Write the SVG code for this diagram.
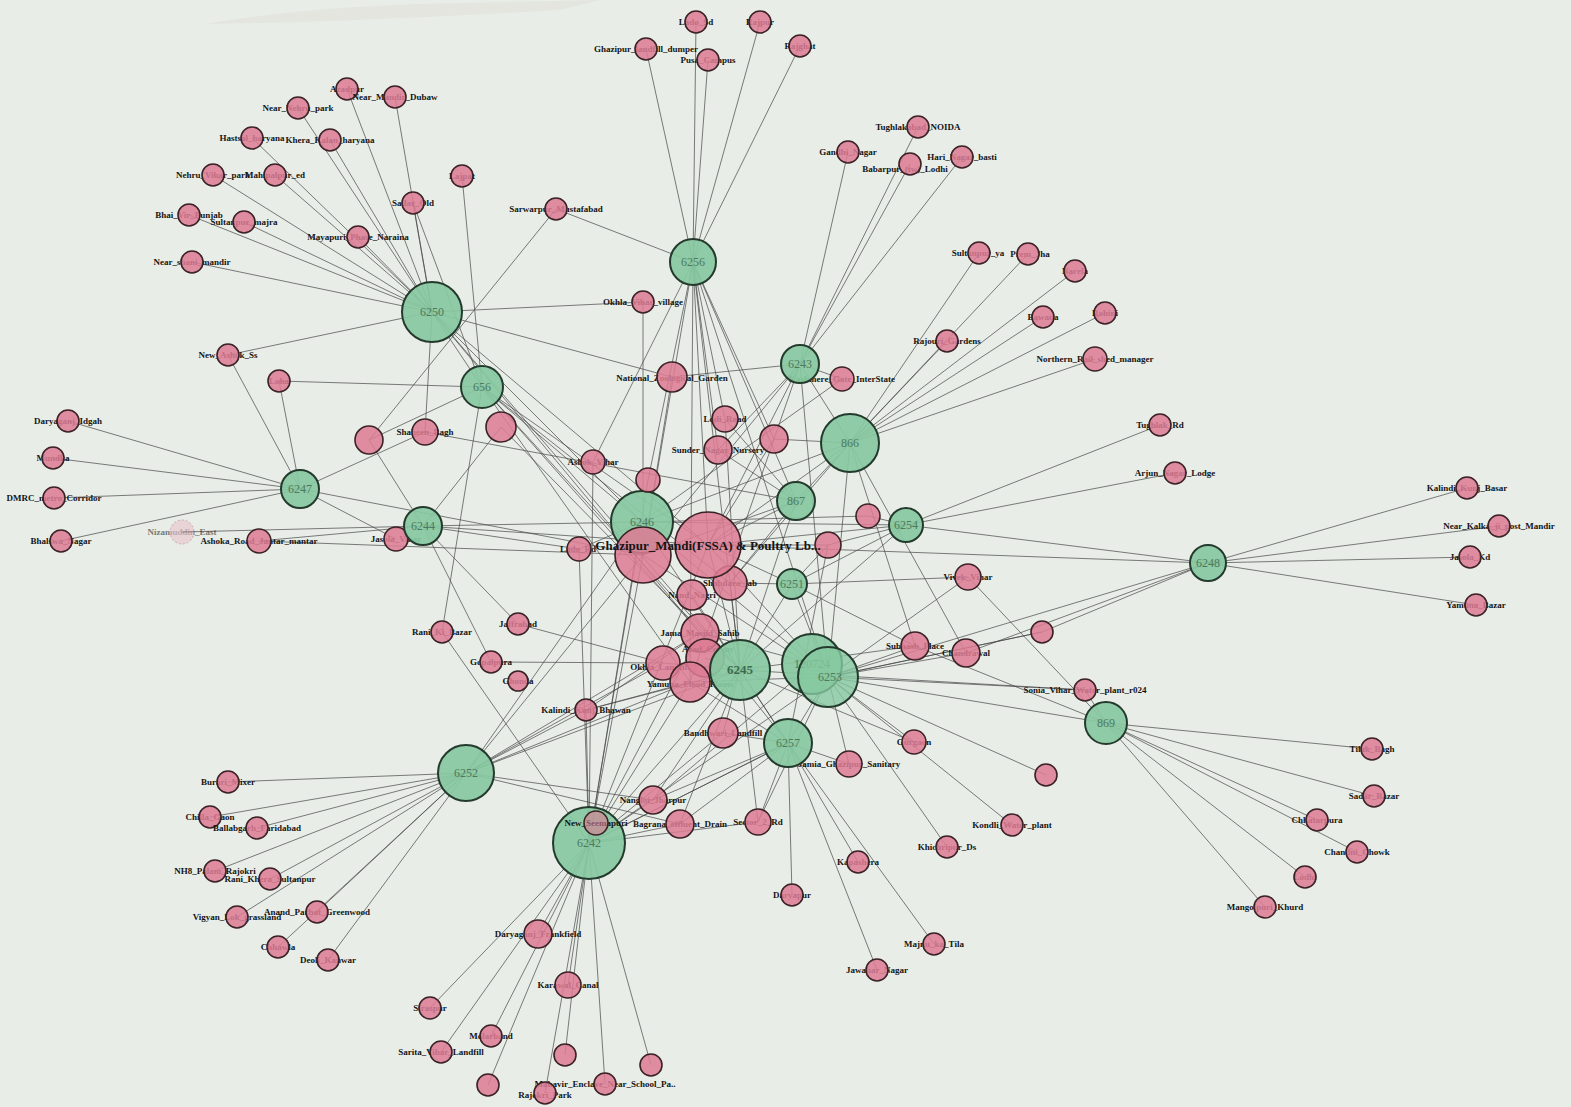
<svg xmlns="http://www.w3.org/2000/svg" width="1571" height="1107" viewBox="0 0 1571 1107">
<style>
.pk{fill:#dd7c94;fill-opacity:.86;stroke:#3a2226;stroke-width:1.6}
.pf{fill:#e9a3b4;fill-opacity:.6;stroke:#b07080;stroke-width:1;stroke-dasharray:2 2}
.hb{fill:#86c8a0;fill-opacity:.93;stroke:#243a2c;stroke-width:2}
.lb{font-family:"Liberation Serif",serif;font-weight:bold;font-size:9px;fill:#151515;text-anchor:middle}
.hl{font-family:"Liberation Serif",serif;font-size:12px;fill:#4d7a5c;text-anchor:middle}
.bl{font-family:"Liberation Serif",serif;font-weight:bold;font-size:13px;fill:#151515;text-anchor:middle}
#edges path{fill:none;stroke:#474747;stroke-width:1;stroke-opacity:.7}
</style>
<rect width="1571" height="1107" fill="#e8ede8"/>
<path d="M205 24 Q300 8 420 4 L600 0 L560 10 Q420 18 300 22 Z" fill="#d8d3c8" opacity="0.3"/>
<g id="edges">
<path d="M432 312L347 89M432 312L395 97M432 312L298 108M432 312L252 138M432 312L330 140M432 312L213 175M432 312L275 175M432 312L189 215M432 312L244 222M432 312L358 237M432 312L413 203M432 312L192 262M432 312L228 355M432 312L643 302M432 312L425 432M432 312L482 387M432 312L642 522M432 312L708 545M432 312L700 633M432 312L740 670M432 312L672 377"/>
<path d="M693 262L696 22M693 262L760 22M693 262L646 49M693 262L708 60M693 262L800 46M693 262L556 209M693 262L643 555M693 262L708 545M693 262L725 419M693 262L774 439M693 262L796 501M693 262L740 670M693 262L828 677M693 262L690 682M693 262L648 480M693 262L718 450M693 262L593 462"/>
<path d="M482 387L462 176M482 387L413 203M482 387L279 381M482 387L369 440M482 387L642 522M482 387L708 545M482 387L700 633M482 387L690 682M482 387L740 670M482 387L730 583M482 387L442 632"/>
<path d="M300 489L68 421M300 489L53 458M300 489L54 498M300 489L61 541M300 489L228 355M300 489L279 381M300 489L425 432M300 489L396 539M300 489L643 555"/>
<path d="M423 526L182 532M423 526L259 541M423 526L369 440M423 526L501 427M423 526L491 662M423 526L518 624M423 526L642 522M423 526L708 545M423 526L579 549"/>
<path d="M800 364L848 152M800 364L918 127M800 364L910 164M800 364L962 157M800 364L842 379M800 364L672 377M800 364L643 555M800 364L708 545M800 364L690 682M800 364L718 450M800 364L828 677M800 364L850 443"/>
<path d="M850 443L979 253M850 443L1028 254M850 443L1075 271M850 443L1043 317M850 443L1105 313M850 443L947 341M850 443L1095 359M850 443L642 522M850 443L708 545M850 443L774 439M850 443L796 501M850 443L915 646M850 443L966 653M850 443L828 677M850 443L730 583"/>
<path d="M906 525L1160 425M906 525L1175 473M906 525L868 516M906 525L642 522M906 525L708 545M906 525L1208 563M906 525L792 584M906 525L828 545M906 525L740 670"/>
<path d="M1208 563L1467 488M1208 563L1499 526M1208 563L1470 557M1208 563L1476 605M1208 563L708 545M1208 563L1042 632M1208 563L966 653M1208 563L828 677"/>
<path d="M1106 723L1372 749M1106 723L1374 796M1106 723L1317 820M1106 723L1357 852M1106 723L1305 877M1106 723L1265 907M1106 723L1085 690M1106 723L968 577M1106 723L915 646M1106 723L828 677"/>
<path d="M792 584L708 545M792 584L730 583M792 584L968 577M792 584L740 670M792 584L828 677M792 584L828 545M792 584L915 646"/>
<path d="M796 501L708 545M796 501L643 555M796 501L730 583M796 501L718 450M796 501L725 419M796 501L740 670M796 501L425 432"/>
<path d="M740 670L700 633M740 670L705 658M740 670L663 663M740 670L692 595M740 670L730 583M740 670L723 733M740 670L788 743M740 670L589 843M740 670L466 773M740 670L653 800M740 670L680 824M740 670L758 822M740 670L586 710M740 670L708 545M740 670L725 419M740 670L501 427M740 670L915 646M740 670L1085 690M740 670L914 742"/>
<path d="M828 677L1085 690M828 677L1046 775M828 677L914 742M828 677L1012 825M828 677L947 847M828 677L966 653M828 677L915 646M828 677L968 577M828 677L1042 632M828 677L708 545M828 677L788 743M828 677L849 764M828 677L758 822M828 677L589 843M828 677L643 555M828 677L690 682M813 664L642 522M813 664L700 633M813 664L653 800"/>
<path d="M788 743L723 733M788 743L680 824M788 743L758 822M788 743L792 895M788 743L858 862M788 743L877 970M788 743L934 944M788 743L849 764M788 743L700 633M788 743L642 522M788 743L589 843M788 743L653 800M788 743L690 682M788 743L828 545"/>
<path d="M466 773L228 782M466 773L210 817M466 773L257 828M466 773L215 871M466 773L270 879M466 773L237 917M466 773L317 912M466 773L278 947M466 773L328 960M466 773L643 555M466 773L690 682M466 773L700 633M466 773L663 663M466 773L586 710M466 773L653 800M466 773L680 824M466 773L642 522"/>
<path d="M589 843L538 934M589 843L568 985M589 843L430 1008M589 843L491 1036M589 843L441 1052M589 843L565 1055M589 843L651 1065M589 843L545 1093M589 843L605 1084M589 843L488 1085M589 843L643 555M589 843L708 545M589 843L700 633M589 843L690 682M589 843L788 743M589 843L723 733M589 843L653 800M589 843L680 824M589 843L758 822M589 843L442 632M589 843L586 710M589 843L642 522M589 843L579 549M589 843L593 462M589 843L648 480"/>
<path d="M556 209L369 440M643 302L643 555M672 377L643 555M842 379L642 522M518 624L663 663M491 662L663 663M586 710L690 682M586 710L700 633M774 439L708 545M828 545L708 545M868 516L642 522M1042 632L828 677M579 549L642 522M259 541L643 555"/>
</g>
<g id="n-6246"><circle class="hb" cx="642" cy="522" r="31"/><text class="hl" x="642" y="526">6246</text></g>
<g id="n-azadpur"><text class="lb" x="347" y="92">Azadpur</text><circle class="pk" cx="347" cy="89" r="11"/></g>
<g id="n-near-mandir-dubaw"><text class="lb" x="395" y="100">Near_Mandir_Dubaw</text><circle class="pk" cx="395" cy="97" r="11"/></g>
<g id="n-near-nehru-park"><text class="lb" x="298" y="111">Near_Nehru_park</text><circle class="pk" cx="298" cy="108" r="11"/></g>
<g id="n-hastsal"><text class="lb" x="252" y="141">Hastsal_haryana</text><circle class="pk" cx="252" cy="138" r="11"/></g>
<g id="n-khera"><text class="lb" x="330" y="143">Khera_Kalan_haryana</text><circle class="pk" cx="330" cy="140" r="11"/></g>
<g id="n-nehru-vihar"><text class="lb" x="213" y="178">Nehru_Vihar_park</text><circle class="pk" cx="213" cy="175" r="11"/></g>
<g id="n-mahipalpur"><text class="lb" x="275" y="178">Mahipalpur_ed</text><circle class="pk" cx="275" cy="175" r="11"/></g>
<g id="n-bhai-vir"><text class="lb" x="189" y="218">Bhai_Vir_Punjab</text><circle class="pk" cx="189" cy="215" r="11"/></g>
<g id="n-sultanpur-majra"><text class="lb" x="244" y="225">Sultanpur_majra</text><circle class="pk" cx="244" cy="222" r="11"/></g>
<g id="n-mayapuri"><text class="lb" x="358" y="240">Mayapuri_Phase_Naraina</text><circle class="pk" cx="358" cy="237" r="11"/></g>
<g id="n-sadar-old"><text class="lb" x="413" y="206">Sadar_Old</text><circle class="pk" cx="413" cy="203" r="11"/></g>
<g id="n-lajpat"><text class="lb" x="462" y="179">Lajpat</text><circle class="pk" cx="462" cy="176" r="11"/></g>
<g id="n-near-shani"><text class="lb" x="192" y="265">Near_shani_mandir</text><circle class="pk" cx="192" cy="262" r="11"/></g>
<g id="n-new-ashok"><text class="lb" x="228" y="358">New_Ashok_Ss</text><circle class="pk" cx="228" cy="355" r="11"/></g>
<g id="n-loha-mandi"><text class="lb" x="279" y="384">Loha</text><circle class="pk" cx="279" cy="381" r="11"/></g>
<g id="n-sarwarpur"><text class="lb" x="556" y="212">Sarwarpur_Mustafabad</text><circle class="pk" cx="556" cy="209" r="11"/></g>
<g id="n-okhla-village"><text class="lb" x="643" y="305">Okhla_Vihar_village</text><circle class="pk" cx="643" cy="302" r="11"/></g>
<g id="n-lado"><text class="lb" x="696" y="25">Lado_Sd</text><circle class="pk" cx="696" cy="22" r="11"/></g>
<g id="n-rajpur"><text class="lb" x="760" y="25">Rajpur</text><circle class="pk" cx="760" cy="22" r="11"/></g>
<g id="n-ghazipur-dumper"><text class="lb" x="646" y="52">Ghazipur_landfill_dumper</text><circle class="pk" cx="646" cy="49" r="11"/></g>
<g id="n-pusa"><text class="lb" x="708" y="63">Pusa_Campus</text><circle class="pk" cx="708" cy="60" r="11"/></g>
<g id="n-rajghat"><text class="lb" x="800" y="49">Rajghat</text><circle class="pk" cx="800" cy="46" r="11"/></g>
<g id="n-gandhi-nagar"><text class="lb" x="848" y="155">Gandhi_Nagar</text><circle class="pk" cx="848" cy="152" r="11"/></g>
<g id="n-tughlakabad-noida"><text class="lb" x="918" y="130">Tughlakabad_NOIDA</text><circle class="pk" cx="918" cy="127" r="11"/></g>
<g id="n-babarpur"><text class="lb" x="905" y="172">Babarpur_(tw)_Lodhi</text><circle class="pk" cx="910" cy="164" r="11"/></g>
<g id="n-hari-basti"><text class="lb" x="962" y="160">Hari_Nagar_basti</text><circle class="pk" cx="962" cy="157" r="11"/></g>
<g id="n-sultanpuri"><text class="lb" x="978" y="256">Sultanpur_ya</text><circle class="pk" cx="979" cy="253" r="11"/></g>
<g id="n-prem-jha"><text class="lb" x="1030" y="257">Prem_Jha</text><circle class="pk" cx="1028" cy="254" r="11"/></g>
<g id="n-narela"><text class="lb" x="1075" y="274">Narela</text><circle class="pk" cx="1075" cy="271" r="11"/></g>
<g id="n-bawana"><text class="lb" x="1043" y="320">Bawana</text><circle class="pk" cx="1043" cy="317" r="11"/></g>
<g id="n-rohini"><text class="lb" x="1105" y="316">Rohini</text><circle class="pk" cx="1105" cy="313" r="11"/></g>
<g id="n-rajouri-gardens"><text class="lb" x="947" y="344">Rajouri_Gardens</text><circle class="pk" cx="947" cy="341" r="11"/></g>
<g id="n-northern-rail"><text class="lb" x="1095" y="362">Northern_Rail_shed_manager</text><circle class="pk" cx="1095" cy="359" r="12"/></g>
<g id="n-tughlak-road"><text class="lb" x="1160" y="428">Tughlak_Rd</text><circle class="pk" cx="1160" cy="425" r="11"/></g>
<g id="n-arjun-lodge"><text class="lb" x="1175" y="476">Arjun_Nagar_Lodge</text><circle class="pk" cx="1175" cy="473" r="11"/></g>
<g id="n-kalindi-basar"><text class="lb" x="1467" y="491">Kalindi_Kunj_Basar</text><circle class="pk" cx="1467" cy="488" r="11"/></g>
<g id="n-near-kalka"><text class="lb" x="1499" y="529">Near_Kalka_ji_post_Mandir</text><circle class="pk" cx="1499" cy="526" r="11"/></g>
<g id="n-jasola-kd"><text class="lb" x="1470" y="560">Jasola_Kd</text><circle class="pk" cx="1470" cy="557" r="11"/></g>
<g id="n-yamuna-bazar"><text class="lb" x="1476" y="608">Yamuna_Bazar</text><circle class="pk" cx="1476" cy="605" r="11"/></g>
<g id="n-tilak-bagh"><text class="lb" x="1372" y="752">Tilak_Bagh</text><circle class="pk" cx="1372" cy="749" r="11"/></g>
<g id="n-sadar-bazar"><text class="lb" x="1374" y="799">Sadar_Bazar</text><circle class="pk" cx="1374" cy="796" r="11"/></g>
<g id="n-chhatarpura"><text class="lb" x="1317" y="823">Chhatarpura</text><circle class="pk" cx="1317" cy="820" r="11"/></g>
<g id="n-chandni-chowk"><text class="lb" x="1357" y="855">Chandni_Chowk</text><circle class="pk" cx="1357" cy="852" r="11"/></g>
<g id="n-lodhi"><text class="lb" x="1305" y="880">Lodhi</text><circle class="pk" cx="1305" cy="877" r="11"/></g>
<g id="n-mangolpuri"><text class="lb" x="1265" y="910">Mangolpuri_Khurd</text><circle class="pk" cx="1265" cy="907" r="11"/></g>
<g id="n-sonia-vihar"><text class="lb" x="1085" y="693">Sonia_Vihar_Water_plant_r024</text><circle class="pk" cx="1085" cy="690" r="11"/></g>
<g id="n-vivek-vihar"><text class="lb" x="968" y="580">Vivek_Vihar</text><circle class="pk" cx="968" cy="577" r="13"/></g>
<g id="n-subhash"><text class="lb" x="915" y="649">Subhash_Place</text><circle class="pk" cx="915" cy="646" r="14"/></g>
<g id="n-chandrawal"><text class="lb" x="966" y="656">Chandrawal</text><circle class="pk" cx="966" cy="653" r="14"/></g>
<g id="n-1042"><circle class="pk" cx="1042" cy="632" r="11"/></g>
<g id="n-gurgaon"><text class="lb" x="914" y="745">Gurgaon</text><circle class="pk" cx="914" cy="742" r="12"/></g>
<g id="n-1046"><circle class="pk" cx="1046" cy="775" r="11"/></g>
<g id="n-jamia-sanitary"><text class="lb" x="849" y="767">Jamia_Ghazipur_Sanitary</text><circle class="pk" cx="849" cy="764" r="13"/></g>
<g id="n-kondli"><text class="lb" x="1012" y="828">Kondli_Water_plant</text><circle class="pk" cx="1012" cy="825" r="11"/></g>
<g id="n-khichripur"><text class="lb" x="947" y="850">Khichripur_Ds</text><circle class="pk" cx="947" cy="847" r="11"/></g>
<g id="n-kapashera"><text class="lb" x="858" y="865">Kapashera</text><circle class="pk" cx="858" cy="862" r="11"/></g>
<g id="n-daryapur"><text class="lb" x="792" y="898">Daryapur</text><circle class="pk" cx="792" cy="895" r="11"/></g>
<g id="n-majnu"><text class="lb" x="934" y="947">Majnu_ka_Tila</text><circle class="pk" cx="934" cy="944" r="11"/></g>
<g id="n-jawahar"><text class="lb" x="877" y="973">Jawahar_Nagar</text><circle class="pk" cx="877" cy="970" r="11"/></g>
<g id="n-868"><circle class="pk" cx="868" cy="516" r="12"/></g>
<g id="n-828"><circle class="pk" cx="828" cy="545" r="13"/></g>
<g id="n-kashmere"><text class="lb" x="842" y="382">Kashmere_Gate_InterState</text><circle class="pk" cx="842" cy="379" r="12"/></g>
<g id="n-national-garden"><text class="lb" x="672" y="381">National_Zoological_Garden</text><circle class="pk" cx="672" cy="377" r="15"/></g>
<g id="n-lodi-road"><text class="lb" x="725" y="422">Lodi_Road</text><circle class="pk" cx="725" cy="419" r="13"/></g>
<g id="n-sunder-nursery"><text class="lb" x="718" y="453">Sunder_Nagar_Nursery</text><circle class="pk" cx="718" cy="450" r="14"/></g>
<g id="n-774"><circle class="pk" cx="774" cy="439" r="14"/></g>
<g id="n-ashok-vihar"><text class="lb" x="593" y="465">Ashok_Vihar</text><circle class="pk" cx="593" cy="462" r="12"/></g>
<g id="n-648"><circle class="pk" cx="648" cy="480" r="12"/></g>
<g id="n-501"><circle class="pk" cx="501" cy="427" r="15"/></g>
<g id="n-369"><circle class="pk" cx="369" cy="440" r="14"/></g>
<g id="n-shaheen"><text class="lb" x="425" y="435">Shaheen_Bagh</text><circle class="pk" cx="425" cy="432" r="13"/></g>
<g id="n-lado-rd"><text class="lb" x="578" y="552">Lado_Rd</text><circle class="pk" cx="579" cy="549" r="12"/></g>
<g id="n-jasola-vihar"><text class="lb" x="396" y="542">Jasola_Vihar</text><circle class="pk" cx="396" cy="539" r="12"/></g>
<g id="n-ashoka-road"><text class="lb" x="259" y="544">Ashoka_Road_Jantar_mantar</text><circle class="pk" cx="259" cy="541" r="12"/></g>
<g id="n-nizamuddin" opacity="0.55"><text class="lb" x="182" y="535">Nizamuddin_East</text><circle class="pf" cx="182" cy="532" r="12"/></g>
<g id="n-daryaganj-idgah"><text class="lb" x="68" y="424">Daryaganj_Idgah</text><circle class="pk" cx="68" cy="421" r="11"/></g>
<g id="n-mundka"><text class="lb" x="53" y="461">Mundka</text><circle class="pk" cx="53" cy="458" r="11"/></g>
<g id="n-dmrc"><text class="lb" x="54" y="501">DMRC_metro_Corridor</text><circle class="pk" cx="54" cy="498" r="11"/></g>
<g id="n-bhalswa"><text class="lb" x="61" y="544">Bhalswa_Nagar</text><circle class="pk" cx="61" cy="541" r="11"/></g>
<g id="n-rani"><text class="lb" x="442" y="635">Rani_Ki_Bazar</text><circle class="pk" cx="442" cy="632" r="11"/></g>
<g id="n-jaffrabad"><text class="lb" x="518" y="627">Jaffrabad</text><circle class="pk" cx="518" cy="624" r="11"/></g>
<g id="n-gopalpura"><text class="lb" x="491" y="665">Gopalpura</text><circle class="pk" cx="491" cy="662" r="11"/></g>
<g id="n-ghonda"><text class="lb" x="518" y="684">Ghonda</text><circle class="pk" cx="518" cy="681" r="10"/></g>
<g id="n-kalindi-bhawan"><text class="lb" x="586" y="713">Kalindi_Kunj_Bhawan</text><circle class="pk" cx="586" cy="710" r="11"/></g>
<g id="n-burari"><text class="lb" x="228" y="785">Burari_Mixer</text><circle class="pk" cx="228" cy="782" r="11"/></g>
<g id="n-chilla"><text class="lb" x="210" y="820">Chilla_Gaon</text><circle class="pk" cx="210" cy="817" r="11"/></g>
<g id="n-ballabgarh"><text class="lb" x="257" y="831">Ballabgarh_Faridabad</text><circle class="pk" cx="257" cy="828" r="11"/></g>
<g id="n-nh8"><text class="lb" x="215" y="874">NH8_Palam_Rajokri</text><circle class="pk" cx="215" cy="871" r="11"/></g>
<g id="n-rani-khera"><text class="lb" x="270" y="882">Rani_Khera_Sultanpur</text><circle class="pk" cx="270" cy="879" r="11"/></g>
<g id="n-vigyan-lok"><text class="lb" x="237" y="920">Vigyan_Lok_grassland</text><circle class="pk" cx="237" cy="917" r="11"/></g>
<g id="n-anand-parbat"><text class="lb" x="317" y="915">Anand_Parbat_Greenwood</text><circle class="pk" cx="317" cy="912" r="11"/></g>
<g id="n-chhawla"><text class="lb" x="278" y="950">Chhawla</text><circle class="pk" cx="278" cy="947" r="11"/></g>
<g id="n-deoli"><text class="lb" x="328" y="963">Deoli_Kanwar</text><circle class="pk" cx="328" cy="960" r="11"/></g>
<g id="n-daryaganj-frank"><text class="lb" x="538" y="937">Daryaganj_Frankfield</text><circle class="pk" cx="538" cy="934" r="14"/></g>
<g id="n-karawal"><text class="lb" x="568" y="988">Karawal_Canal</text><circle class="pk" cx="568" cy="985" r="13"/></g>
<g id="n-siraspur"><text class="lb" x="430" y="1011">Siraspur</text><circle class="pk" cx="430" cy="1008" r="11"/></g>
<g id="n-molarband"><text class="lb" x="491" y="1039">Molarband</text><circle class="pk" cx="491" cy="1036" r="11"/></g>
<g id="n-sarita"><text class="lb" x="441" y="1055">Sarita_Vihar_Landfill</text><circle class="pk" cx="441" cy="1052" r="11"/></g>
<g id="n-565"><circle class="pk" cx="565" cy="1055" r="11"/></g>
<g id="n-651"><circle class="pk" cx="651" cy="1065" r="11"/></g>
<g id="n-488"><circle class="pk" cx="488" cy="1085" r="11"/></g>
<g id="n-mahavir"><text class="lb" x="605" y="1087">Mahavir_Enclave_Near_School_Pa..</text><circle class="pk" cx="605" cy="1084" r="11"/></g>
<g id="n-rajokri-park"><text class="lb" x="545" y="1098">Rajokri_Park</text><circle class="pk" cx="545" cy="1093" r="11"/></g>
<g id="n-nangloi"><text class="lb" x="653" y="803">Nangloi_Jharpur</text><circle class="pk" cx="653" cy="800" r="14"/></g>
<g id="n-bagrana"><text class="lb" x="680" y="827">Bagrana_effluent_Drain</text><circle class="pk" cx="680" cy="824" r="14"/></g>
<g id="n-sector2"><text class="lb" x="758" y="825">Sector_2_Rd</text><circle class="pk" cx="758" cy="822" r="13"/></g>
<g id="n-bandhwari"><text class="lb" x="723" y="736">Bandhwari_Landfill</text><circle class="pk" cx="723" cy="733" r="15"/></g>
<g id="n-nand-nagri"><text class="lb" x="692" y="598">Nand_Nagri</text><circle class="pk" cx="692" cy="595" r="15"/></g>
<g id="n-shahdara-lab"><text class="lb" x="730" y="586">Shahdara_lab</text><circle class="pk" cx="730" cy="583" r="17"/></g>
<g id="n-jama-masjid"><text class="lb" x="700" y="636">Jama_Masjid_Sahib</text><circle class="pk" cx="700" cy="633" r="19"/></g>
<g id="n-okhla-landfill"><text class="lb" x="660" y="670">Okhla_Landfill</text><circle class="pk" cx="663" cy="663" r="17"/></g>
<g id="n-azad-colony"><text class="lb" x="708" y="652">Azad_Colony</text><circle class="pk" cx="705" cy="658" r="19"/></g>
<g id="n-yamuna-flood"><text class="lb" x="690" y="687">Yamuna_Flood_Plains</text><circle class="pk" cx="690" cy="682" r="20"/></g>
<g id="n-ghazipur"><circle class="pk" cx="643" cy="555" r="28"/></g>
<g id="n-ghazipur-mandi"><circle class="pk" cx="708" cy="545" r="33"/><text class="bl" x="708" y="550">Ghazipur_Mandi(FSSA) &amp; Poultry Lb...</text></g>
<g id="n-6250"><circle class="hb" cx="432" cy="312" r="30"/><text class="hl" x="432" y="316">6250</text></g>
<g id="n-6256"><circle class="hb" cx="693" cy="262" r="23"/><text class="hl" x="693" y="266">6256</text></g>
<g id="n-656"><circle class="hb" cx="482" cy="387" r="21"/><text class="hl" x="482" y="391">656</text></g>
<g id="n-6247"><circle class="hb" cx="300" cy="489" r="19"/><text class="hl" x="300" y="493">6247</text></g>
<g id="n-6244"><circle class="hb" cx="423" cy="526" r="19"/><text class="hl" x="423" y="530">6244</text></g>
<g id="n-6243"><circle class="hb" cx="800" cy="364" r="19"/><text class="hl" x="800" y="368">6243</text></g>
<g id="n-866"><circle class="hb" cx="850" cy="443" r="29"/><text class="hl" x="850" y="447">866</text></g>
<g id="n-867"><circle class="hb" cx="796" cy="501" r="19"/><text class="hl" x="796" y="505">867</text></g>
<g id="n-6254"><circle class="hb" cx="906" cy="525" r="17"/><text class="hl" x="906" y="529">6254</text></g>
<g id="n-6248"><circle class="hb" cx="1208" cy="563" r="18"/><text class="hl" x="1208" y="567">6248</text></g>
<g id="n-6251"><circle class="hb" cx="792" cy="584" r="15"/><text class="hl" x="792" y="588">6251</text></g>
<g id="n-6245"><circle class="hb" cx="740" cy="670" r="30"/><text class="bl" x="740" y="674" style="fill:#3f6a4e">6245</text></g>
<g id="n-120724"><circle class="hb" cx="812" cy="664" r="30"/><text class="hl" x="812" y="668">120724</text></g>
<g id="n-6253"><circle class="hb" cx="828" cy="677" r="30" style="fill-opacity:.8"/><text class="hl" x="830" y="681">6253</text></g>
<g id="n-6257"><circle class="hb" cx="788" cy="743" r="24"/><text class="hl" x="788" y="747">6257</text></g>
<g id="n-869"><circle class="hb" cx="1106" cy="723" r="21"/><text class="hl" x="1106" y="727">869</text></g>
<g id="n-6252"><circle class="hb" cx="466" cy="773" r="28"/><text class="hl" x="466" y="777">6252</text></g>
<g id="n-6242"><circle class="hb" cx="589" cy="843" r="36"/><text class="hl" x="589" y="847">6242</text></g>
<g id="n-new-seemapuri"><text class="lb" x="596" y="826">New_Seemapuri</text><circle class="pk" cx="596" cy="823" r="12" style="fill-opacity:.6"/></g>
</svg>
